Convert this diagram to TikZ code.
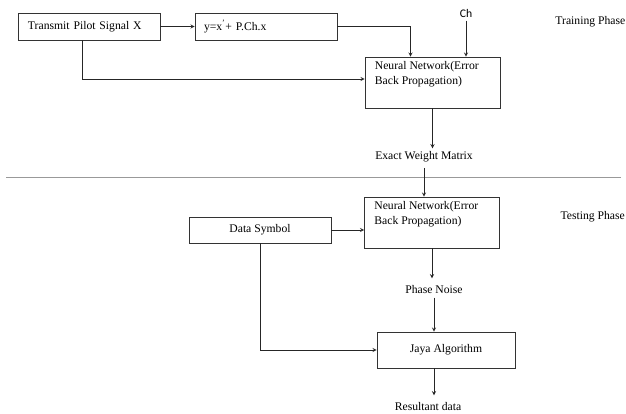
\documentclass[tikz,border=0pt]{standalone}
\usepackage{fontspec}
\setmainfont{Liberation Serif}
\newfontfamily\chfont{Carlito}
\usetikzlibrary{arrows}
\tikzset{
    blocco/.style={draw=black!80, line width=0.6pt, minimum height=#1, inner sep=0pt},
    freccia/.style={->,>=stealth, line width=0.9pt, black!85},
}
\begin{document}
\begin{tikzpicture}[x=1bp, y=-1bp, font=\fontsize{11.7}{15}\selectfont]
        \useasboundingbox (0,0) rectangle (626,413);
        %%%%%%%%%% Nodi %%%%%%%%%%
        \node[blocco=27bp, minimum width=142bp, text width=122bp, align=left] (pilot) at (89,26.5) {Transmit Pilot Signal X};
        \node[blocco=27bp, minimum width=142bp, text width=124bp, align=left] (canale) at (266,26.5) {y=x\textsuperscript{'}+ P.Ch.x};
        \node (ch) at (466,13) {\chfont Ch};
        \node[blocco=51bp, minimum width=135bp] (rete1) at (432.5,82.5) {};
        \node[anchor=north west, align=left, inner sep=0pt] at ([xshift=10bp, yshift=-5bp]rete1.north west) {Neural Network(Error\\Back Propagation)};
        \node (pesi) at (424,157) {Exact Weight Matrix};
        \node[anchor=east, inner sep=0pt] (train) at (625.5,22) {Training Phase};

        \node[blocco=51bp, minimum width=135bp] (rete2) at (432,222.5) {};
        \node[anchor=north west, align=left, inner sep=0pt] at ([xshift=10bp, yshift=-5bp]rete2.north west) {Neural Network(Error\\Back Propagation)};
        \node[blocco=26bp, minimum width=142bp] (dati) at (260,230) {Data Symbol};
        \node (rumore) at (434,290) {Phase Noise};
        \node[blocco=36bp, minimum width=138bp] (jaya) at (446,350) {Jaya Algorithm};
        \node (uscita) at (428,407) {Resultant data};
        \node[anchor=west] (test) at (557,217) {Testing Phase};

        \coordinate (sx) at (6,177.5);
        \coordinate (dx) at (621,177.5);
        \draw[black!40, line width=0.8pt] (sx) -- (dx);

        %%%%%%%%% Frecce %%%%%%%%%
        \draw[freccia] (pilot) -- (canale);
        \draw[freccia] (canale.east) -| ([xshift=-22bp]rete1.north);
        \draw[freccia] (ch.south) -- (ch.south |- rete1.north);
        \draw[freccia] ([xshift=-7bp]pilot.south) |- (rete1.west |- 0,79);
        \draw[freccia] (rete1.south) -- ++(0,-40bp);
        \draw[freccia] (pesi.south) ++(0,-2bp) -- (pesi.south |- rete2.north);
        \draw[freccia] (dati) -- (dati -| rete2.west);
        \draw[freccia] (rete2.south) -- ++(0,-30bp);
        \draw[freccia] (rumore.south) -- (rumore.south |- jaya.north);
        \draw[freccia] (dati.south) |- (jaya.west);
        \draw[freccia] ([xshift=-12bp]jaya.south) -- ++(0,-27bp);
    \end{tikzpicture}
\end{document}
